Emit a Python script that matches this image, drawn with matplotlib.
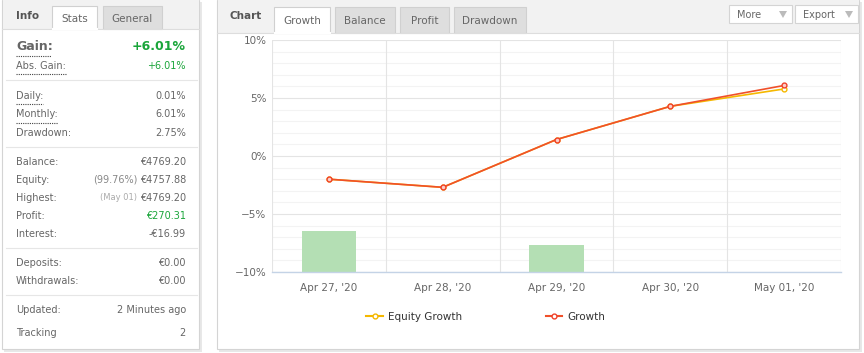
import numpy as np
import matplotlib
matplotlib.use('Agg')
import matplotlib.pyplot as plt
from matplotlib.patches import Rectangle, Polygon
from matplotlib.lines import Line2D

# data
dates=		["Apr 27, '20", "Apr 28, '20", "Apr 29, '20", "Apr 30, '20", "May 01, '20"]
growth=		[-2.0, -2.7, 1.42, 4.28, 6.08]
equity_growth=	[-2.0, -2.7, 1.42, 4.28, 5.78]
bar_tops=	[-6.47, np.nan, -7.67, np.nan, np.nan]
y_ticks=	[-10, -5, 0, 5, 10]

# side panel rows: (label, value, note)
rows_a= [('Daily:', '0.01%'), ('Monthly:', '6.01%'), ('Drawdown:', '2.75%')]
rows_b= [('Balance:', '€4769.20', None), ('Equity:', '€4757.88', '(99.76%)'),
         ('Highest:', '€4769.20', '(May 01)'), ('Profit:', '€270.31', None), ('Interest:', '-€16.99', None)]
rows_c= [('Deposits:', '€0.00'), ('Withdrawals:', '€0.00')]

W, H= 864, 353
fig= plt.figure(figsize=(W/100, H/100), dpi=100)
fig.patch.set_facecolor('white')

GREY= '#666666'
GREEN= '#1aa53a'

def fx(x): return x/W
def fy(y): return 1-y/H

def rect(x0, y0, x1, y1, **kw):
	fig.patches.append(Rectangle((fx(x0), fy(y1)), (x1-x0)/W, (y1-y0)/H, transform=fig.transFigure, **kw))

def hline(x0, x1, y, **kw):
	fig.add_artist(Line2D([fx(x0), fx(x1)], [fy(y), fy(y)], transform=fig.transFigure, **kw))

def txt(x, y, s, **kw):
	kw.setdefault('va', 'center')
	kw.setdefault('color', GREY)
	kw.setdefault('fontsize', 7)
	fig.text(fx(x), fy(y), s, **kw)

def panel(x0, y0, x1, y1, head):
	rect(x0+2, y0+2, x1+3, y1+3, facecolor='#e8e8e8', edgecolor='none')
	rect(x0, y0, x1, y1, facecolor='white', edgecolor='#d4d4d4', lw=0.8)
	rect(x0+0.5, y0+0.5, x1-0.5, head, facecolor='#f2f2f2', edgecolor='none')
	hline(x0, x1, head, color='#dddddd', lw=0.8)

def tab(x0, x1, label, active=False, y0=6, y1=29):
	fc= 'white' if active else '#dedede'
	rect(x0, y0, x1, y1, facecolor=fc, edgecolor='#d0d0d0', lw=0.8)
	if active: hline(x0+0.5, x1-0.5, y1, color='white', lw=1.5)
	txt((x0+x1)/2, (y0+y1)/2+1, label, ha='center', fontsize=7.5)

def dotted(x0, x1, y):
	hline(x0, x1, y, color='#444444', lw=0.8, ls=(0, (1, 1)))

# ---- left info panel
panel(2, 0, 199, 349, 29)
txt(16, 16, 'Info', fontsize=7.5, weight='bold', color='#555555')
tab(52, 97, 'Stats', active=True)
tab(103, 162, 'General')

txt(16, 47, 'Gain:', fontsize=9, weight='bold', color='#666666')
dotted(16, 51, 56)
txt(186, 46, '+6.01%', ha='right', fontsize=9, weight='bold', color=GREEN)
txt(16, 66, 'Abs. Gain:')
dotted(16, 66, 74)
txt(186, 66, '+6.01%', ha='right', color=GREEN)
hline(6, 197, 80, color='#e6e6e6', lw=0.8)

ys= [96, 114, 133]
for (lab, val), y in zip(rows_a, ys):
	txt(16, y, lab)
	txt(186, y, val, ha='right')
dotted(16, 43, 104)
dotted(16, 58, 123)
hline(6, 197, 147, color='#e6e6e6', lw=0.8)

ys= [162, 180, 198, 216, 234]
for (lab, val, note), y in zip(rows_b, ys):
	txt(16, y, lab)
	txt(186, y, val, ha='right', color=GREEN if lab=='Profit:' else GREY)
	if note:
		txt(137, y, note, ha='right', fontsize=7 if lab=='Equity:' else 6, color='#888888' if lab=='Equity:' else '#aaaaaa')
hline(6, 197, 248, color='#e6e6e6', lw=0.8)

for (lab, val), y in zip(rows_c, [263, 281]):
	txt(16, y, lab)
	txt(186, y, val, ha='right')
hline(6, 197, 295, color='#e6e6e6', lw=0.8)

txt(16, 310, 'Updated:')
txt(186, 310, '2 Minutes ago', ha='right')
txt(16, 333, 'Tracking')
txt(186, 333, '2', ha='right')

# ---- right chart panel
panel(217, 0, 859, 349, 33)
txt(230, 16, 'Chart', fontsize=7.5, weight='bold', color='#555555')
tab(274, 330, 'Growth', active=True, y0=7, y1=33)
tab(335, 395, 'Balance', y0=7, y1=33)
tab(400, 449, 'Profit', y0=7, y1=33)
tab(454, 526, 'Drawdown', y0=7, y1=33)
for x0, x1, lab in [(729, 792, 'More'), (795, 858, 'Export')]:
	rect(x0, 5, x1, 23, facecolor='white', edgecolor='#d4d4d4', lw=0.8)
	txt(x0+8, 14.5, lab, fontsize=7)
	fig.patches.append(Polygon([(fx(x1-13), fy(11)), (fx(x1-5), fy(11)), (fx(x1-9), fy(18))],
	                           closed=True, transform=fig.transFigure, facecolor='#bbbbbb', edgecolor='none'))

ax= fig.add_axes([fx(272), fy(272), (841-272)/W, (272-40)/H])
ax.set_zorder(5)
x= np.arange(len(dates))
ax.set_xlim(-0.5, len(dates)-0.5)
ax.set_ylim(-10, 10)

for v in range(-10, 11):
	if v%5: ax.axhline(v, color='#f3f3f3', lw=0.8, zorder=0)
for v in y_ticks:
	ax.axhline(v, color='#e4e4e4', lw=0.8, zorder=0)
for v in np.arange(-0.5, len(dates), 1.0):
	ax.axvline(v, color='#e4e4e4', lw=0.8, zorder=0)

tops= np.array(bar_tops)
ax.bar(x, tops+10, bottom=-10, width=0.48, color='#b4dfb4', zorder=1)

ax.plot(x, equity_growth, color='#f5b800', lw=1.2, marker='o', ms=3.5, mfc='white', mec='#f5b800', mew=1, zorder=3)
ax.plot(x, growth, color='#f0502a', lw=1.2, marker='o', ms=3.5, mfc='#fbd0c8', mec='#f0402a', mew=1, zorder=4)

for s in ['top', 'left', 'right']:
	ax.spines[s].set_visible(False)
ax.spines['bottom'].set_color('#c4d3e6')
ax.spines['bottom'].set_linewidth(1)
ax.set_xticks(x)
ax.set_xticklabels(dates)
ax.set_yticks(y_ticks)
ax.set_yticklabels([f'{v}%' if v>=0 else f'\u2212{-v}%' for v in y_ticks])
ax.tick_params(length=0, labelsize=7.5, colors=GREY, pad=4)
ax.tick_params(axis='x', pad=8)
ax.set_facecolor('none')

handles= [Line2D([], [], color='#f5b800', lw=1.5, marker='o', ms=3.5, mfc='white', mec='#f5b800'),
          Line2D([], [], color='#f0502a', lw=1.5, marker='o', ms=3.5, mfc='white', mec='#f0402a')]
fig.legend(handles, ['Equity Growth', 'Growth'], loc='center', bbox_to_anchor=(fx(486), fy(317)),
           ncol=2, frameon=False, fontsize=7.5, handlelength=1.6, handletextpad=0.5, columnspacing=8,
           labelcolor='#333333')

fig.savefig('out.png', dpi=100, facecolor='white')
